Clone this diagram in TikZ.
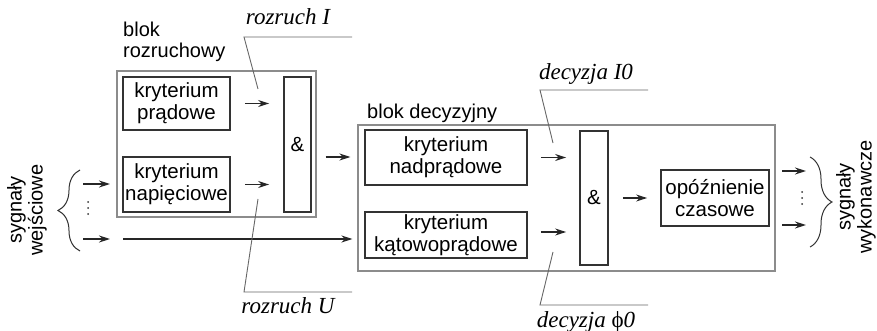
\documentclass[tikz,border=0pt]{standalone}
\usepackage{fontspec}
\setmainfont{Liberation Sans}
\newfontfamily\serifit{Liberation Serif}
\usetikzlibrary{arrows.meta,decorations.pathreplacing}
\begin{document}
\begin{tikzpicture}[x=1pt,y=-1pt,
  inbox/.style={draw=black!80,line width=1.8pt,inner sep=0pt,align=center,font=\fontsize{20.5}{22}\selectfont},
  outbox/.style={draw=black!45,line width=1.1pt,inner sep=0pt},
  arr/.style={line width=1.5pt,draw=black!85,-{Stealth[length=11pt,width=7pt]}},
  lead/.style={draw=black!60,line width=0.9pt},
  lbl/.style={font=\fontsize{20}{21}\selectfont,inner sep=0pt},
  itl/.style={font=\serifit\itshape\fontsize{23}{25}\selectfont,inner sep=0pt},
  brc/.style={decorate,decoration={brace,amplitude=22pt,aspect=0.5},draw=black!80,line width=1pt},
  dotc/.style={fill=black!80,draw=none}]
\useasboundingbox (0,0) rectangle (877,331);
% outer blocks
\node[outbox,minimum width=199,minimum height=146] (o1) at (216.5,144) {};
\node[outbox,minimum width=417,minimum height=146] (o2) at (566.5,198) {};
% inner boxes
\node[inbox,minimum width=107,minimum height=53] (kp) at (176.5,103.5) {kryterium\\prądowe};
\node[inbox,minimum width=107,minimum height=55] (kn) at (176.5,184.5) {kryterium\\napięciowe};
\node[inbox,minimum width=27,minimum height=135] (a1) at (297.5,144.5) {\&};
\node[inbox,minimum width=162,minimum height=55] (knad) at (446,157.5) {kryterium\\nadprądowe};
\node[inbox,minimum width=162,minimum height=46] (kkat) at (446,235) {kryterium\\kątowoprądowe};
\node[inbox,minimum width=28,minimum height=134] (a2) at (594,198) {\&};
\node[inbox,minimum width=108,minimum height=56] (op) at (715,198) {opóźnienie\\czasowe};
% labels
\node[lbl,anchor=west,align=left] (bl1) at (123,42) {blok\\rozruchowy};
\node[lbl,anchor=west] (bl2) at (367,113) {blok decyzyjny};
\node[lbl,rotate=90,align=center] (sw) at (27,210) {sygnały\\wejściowe};
\node[lbl,rotate=90,align=center] (sy) at (856,197) {sygnały\\wykonawcze};
\node[itl] (rI) at (288,17) {rozruch I};
\node[itl] (rU) at (288,306) {rozruch U};
\node[itl] (dI) at (586,74) {decyzja I0};
\node[itl] (dF) at (586,322) {decyzja \upshape ϕ\itshape 0};
% coordinates for signal lines
\coordinate (i1) at (83,184);
\coordinate (i2) at (83,239);
\coordinate (i1e) at (110,184);
\coordinate (i2e) at (110,239);
\coordinate (l1) at (123,239);
\coordinate (oo1) at (782,171);
\coordinate (oo2) at (782,225);
\coordinate (oo1e) at (806,171);
\coordinate (oo2e) at (806,225);
% arrows
\draw[arr] (i1) -- (i1e);
\draw[arr] (i2) -- (i2e);
\draw[arr] (l1) -- ([xshift=-5pt]o2.west |- l1);
\draw[arr,shorten <=14pt,shorten >=14pt] (kp.east) -- (kp.east -| a1.west);
\draw[arr,shorten <=14pt,shorten >=14pt] (kn.east) -- (kn.east -| a1.west);
\draw[arr,shorten <=9pt] (o1.east |- 0,157) -- ([xshift=-7pt]o2.west |- 0,157);
\draw[arr,shorten <=13pt,shorten >=13pt] (knad.east) -- (knad.east -| a2.west);
\draw[arr,shorten <=13pt,shorten >=13pt] ([yshift=3pt]kkat.east) -- ([yshift=3pt]kkat.east -| a2.west);
\draw[arr,shorten <=14pt,shorten >=13pt] (a2.east) -- (op.west);
\draw[arr] (oo1) -- (oo1e);
\draw[arr] (oo2) -- (oo2e);
% braces
\draw[brc] (80,251) -- (80,170);
\draw[brc] (810,157) -- (810,247);
% dots
\foreach \y in {202,208,214} \fill[dotc] (88,\y) circle (1);
\foreach \y in {192,198,204} \fill[dotc] (802,\y) circle (1);
% leader lines
\coordinate (rIa) at (258,89); \coordinate (rIb) at (244,37); \coordinate (rIc) at (352,37);
\coordinate (rUa) at (258,199); \coordinate (rUb) at (244,292); \coordinate (rUc) at (352,292);
\coordinate (dIa) at (553,143); \coordinate (dIb) at (540,90); \coordinate (dIc) at (648,90);
\coordinate (dFa) at (553,252); \coordinate (dFb) at (540,305); \coordinate (dFc) at (648,305);
\draw[lead] (rIa) -- (rIb) -- (rIc);
\draw[lead] (rUa) -- (rUb) -- (rUc);
\draw[lead] (dIa) -- (dIb) -- (dIc);
\draw[lead] (dFa) -- (dFb) -- (dFc);
\end{tikzpicture}
\end{document}
